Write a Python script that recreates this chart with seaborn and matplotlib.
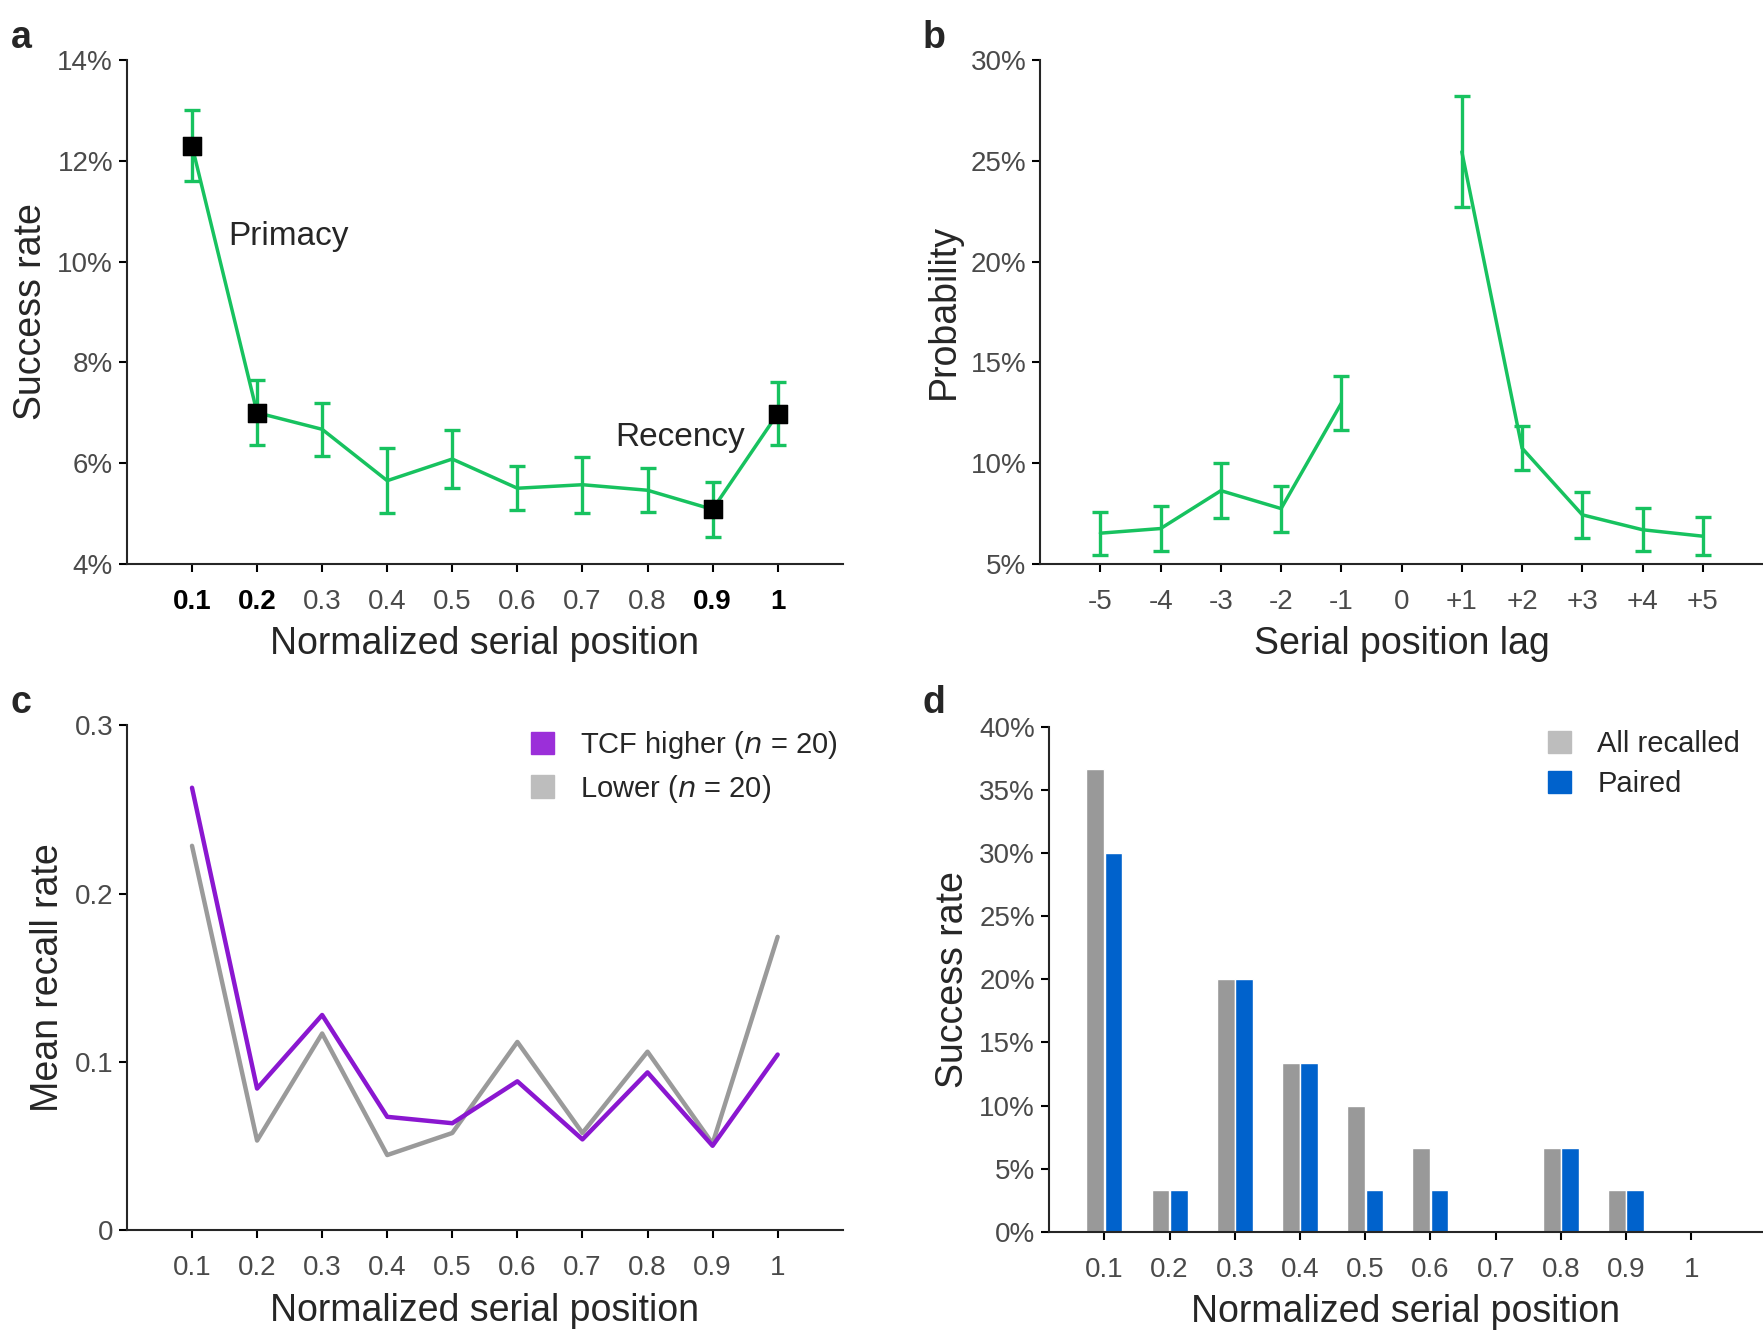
import numpy as np
import pandas as pd
import seaborn as sns
import matplotlib.pyplot as plt
from matplotlib.patches import Patch
from matplotlib.ticker import PercentFormatter

# ---- data ----
positions = [0.1, 0.2, 0.3, 0.4, 0.5, 0.6, 0.7, 0.8, 0.9, 1.0]
pos_labels = ['0.1', '0.2', '0.3', '0.4', '0.5', '0.6', '0.7', '0.8', '0.9', '1']

# a: success rate (%) with error
rate_a = [12.3, 7.0, 6.67, 5.65, 6.08, 5.5, 5.57, 5.46, 5.08, 6.98]
err_a = [0.7, 0.65, 0.52, 0.65, 0.57, 0.44, 0.56, 0.44, 0.54, 0.62]
marked_a = [0.1, 0.2, 0.9, 1.0]

# b: lag CRP (%)
lags = [-5, -4, -3, -2, -1, 1, 2, 3, 4, 5]
lag_side = ['neg'] * 5 + ['pos'] * 5
prob_b = [6.52, 6.75, 8.63, 7.74, 12.97, 25.45, 10.74, 7.43, 6.69, 6.37]
err_b = [1.07, 1.1, 1.36, 1.14, 1.35, 2.76, 1.08, 1.13, 1.06, 0.93]
lag_ticks = [-5, -4, -3, -2, -1, 0, 1, 2, 3, 4, 5]
lag_labels = ['-5', '-4', '-3', '-2', '-1', '0', '+1', '+2', '+3', '+4', '+5']

# c: mean recall rate by group
tcf_higher = [0.263, 0.0843, 0.128, 0.0675, 0.0637, 0.0886, 0.0541, 0.0939, 0.0503, 0.1045]
tcf_lower = [0.2285, 0.0534, 0.117, 0.0448, 0.0579, 0.112, 0.0579, 0.1062, 0.0516, 0.1744]

# d: success rate (%)
all_recalled = [36.67, 3.33, 20.0, 13.33, 10.0, 6.67, 0.0, 6.67, 3.33, 0.0]
paired = [30.0, 3.33, 20.0, 13.33, 3.33, 3.33, 0.0, 6.67, 3.33, 0.0]

green = '#17C25F'
purple = '#8A17D0'
gray_line = '#9A9A9A'
gray_patch = '#BDBDBD'
blue = '#0062CC'
tick_gray = '#4A4A4A'

sns.set_style('ticks')
plt.rcParams['font.family'] = ['Liberation Sans', 'DejaVu Sans']
plt.rcParams['axes.linewidth'] = 1.5
plt.rcParams['xtick.major.width'] = 1.5
plt.rcParams['ytick.major.width'] = 1.5
plt.rcParams['xtick.major.size'] = 6
plt.rcParams['ytick.major.size'] = 6

fig = plt.figure(figsize=(17.63, 13.36), dpi=100)
ax_a = fig.add_axes([0.072, 0.578, 0.406, 0.377])
ax_b = fig.add_axes([0.590, 0.578, 0.410, 0.377])
ax_c = fig.add_axes([0.072, 0.079, 0.406, 0.378])
ax_d = fig.add_axes([0.595, 0.078, 0.405, 0.378])


def style(ax, xlabel, ylabel):
    sns.despine(ax=ax)
    ax.set_xlabel(xlabel, fontsize=27, labelpad=8)
    ax.set_ylabel(ylabel, fontsize=27, labelpad=6)
    ax.tick_params(axis='both', labelsize=20, colors='black', labelcolor=tick_gray)
    ax.tick_params(axis='x', pad=12)
    ax.tick_params(axis='y', pad=4)


# ---- a ----
df_a = pd.DataFrame({'pos': positions, 'rate': rate_a, 'err': err_a})
ax_a.errorbar(df_a['pos'], df_a['rate'], yerr=df_a['err'], fmt='none',
              ecolor=green, elinewidth=2.4, capsize=6, capthick=2.4, zorder=2)
sns.lineplot(data=df_a, x='pos', y='rate', color=green, linewidth=2.5, ax=ax_a, zorder=3)
df_m = df_a[df_a['pos'].isin(marked_a)]
sns.scatterplot(data=df_m, x='pos', y='rate', marker='s', s=180, color='black',
                edgecolor='black', ax=ax_a, zorder=4)
ax_a.set_xlim(0, 1.1)
ax_a.set_ylim(4, 14)
ax_a.set_xticks(positions)
ax_a.set_xticklabels(pos_labels)
ax_a.set_yticks([4, 6, 8, 10, 12, 14])
ax_a.yaxis.set_major_formatter(PercentFormatter(decimals=0))
style(ax_a, 'Normalized serial position', 'Success rate')
for p, lab in zip(positions, ax_a.get_xticklabels()):
    if p in marked_a:
        lab.set_fontweight('bold')
        lab.set_color('black')
ax_a.text(0.155, 10.5, 'Primacy', fontsize=24, va='center')
ax_a.text(0.75, 6.5, 'Recency', fontsize=24, va='center')

# ---- b ----
df_b = pd.DataFrame({'lag': lags, 'prob': prob_b, 'err': err_b, 'side': lag_side})
ax_b.errorbar(df_b['lag'], df_b['prob'], yerr=df_b['err'], fmt='none',
              ecolor=green, elinewidth=2.4, capsize=6, capthick=2.4, zorder=2)
sns.lineplot(data=df_b, x='lag', y='prob', units='side', estimator=None,
             color=green, linewidth=2.5, ax=ax_b, zorder=3)
ax_b.set_xlim(-6, 6)
ax_b.set_ylim(5, 30)
ax_b.set_xticks(lag_ticks)
ax_b.set_xticklabels(lag_labels)
ax_b.set_yticks([5, 10, 15, 20, 25, 30])
ax_b.yaxis.set_major_formatter(PercentFormatter(decimals=0))
style(ax_b, 'Serial position lag', 'Probability')

# ---- c ----
df_c = pd.DataFrame({'pos': positions * 2,
                     'rate': tcf_higher + tcf_lower,
                     'group': ['higher'] * 10 + ['lower'] * 10})
sns.lineplot(data=df_c, x='pos', y='rate', hue='group', hue_order=['lower', 'higher'],
             palette={'higher': purple, 'lower': gray_line}, linewidth=3.2,
             legend=False, ax=ax_c)
ax_c.set_xlim(0, 1.1)
ax_c.set_ylim(0, 0.3)
ax_c.set_xticks(positions)
ax_c.set_xticklabels(pos_labels)
ax_c.set_yticks([0, 0.1, 0.2, 0.3])
ax_c.set_yticklabels(['0', '0.1', '0.2', '0.3'])
style(ax_c, 'Normalized serial position', 'Mean recall rate')
handles_c = [Patch(color='#9B2FD9', label=r'TCF higher ($\it{n}$ = 20)'),
             Patch(color=gray_patch, label=r'Lower ($\it{n}$ = 20)')]
ax_c.legend(handles=handles_c, loc='upper right', bbox_to_anchor=(1.03, 1.045),
            frameon=False, fontsize=21, handlelength=0.8, handleheight=0.8,
            handletextpad=0.9, labelspacing=0.4)

# ---- d ----
df_d = pd.DataFrame({'pos': pos_labels * 2,
                     'rate': all_recalled + paired,
                     'group': ['All recalled'] * 10 + ['Paired'] * 10})
sns.barplot(data=df_d, x='pos', y='rate', hue='group', order=pos_labels,
            palette=['#999999', blue], saturation=1, width=0.56, gap=0.03,
            legend=False, ax=ax_d)
ax_d.set_xlim(-0.85, 10.1)
ax_d.set_ylim(0, 40)
ax_d.set_yticks([0, 5, 10, 15, 20, 25, 30, 35, 40])
ax_d.yaxis.set_major_formatter(PercentFormatter(decimals=0))
style(ax_d, 'Normalized serial position', 'Success rate')
handles_d = [Patch(color=gray_patch, label='All recalled'),
             Patch(color=blue, label='Paired')]
ax_d.legend(handles=handles_d, loc='upper right', bbox_to_anchor=(1.005, 1.045),
            frameon=False, fontsize=21, handlelength=0.8, handleheight=0.8,
            handletextpad=0.9, labelspacing=0.4, alignment='left')

# panel letters
for x, y, letter in [(0.006, 0.985, 'a'), (0.523, 0.985, 'b'),
                     (0.006, 0.487, 'c'), (0.523, 0.487, 'd')]:
    fig.text(x, y, letter, fontsize=27, fontweight='bold', va='top')

fig.savefig('out.png', dpi=100, facecolor='white')
